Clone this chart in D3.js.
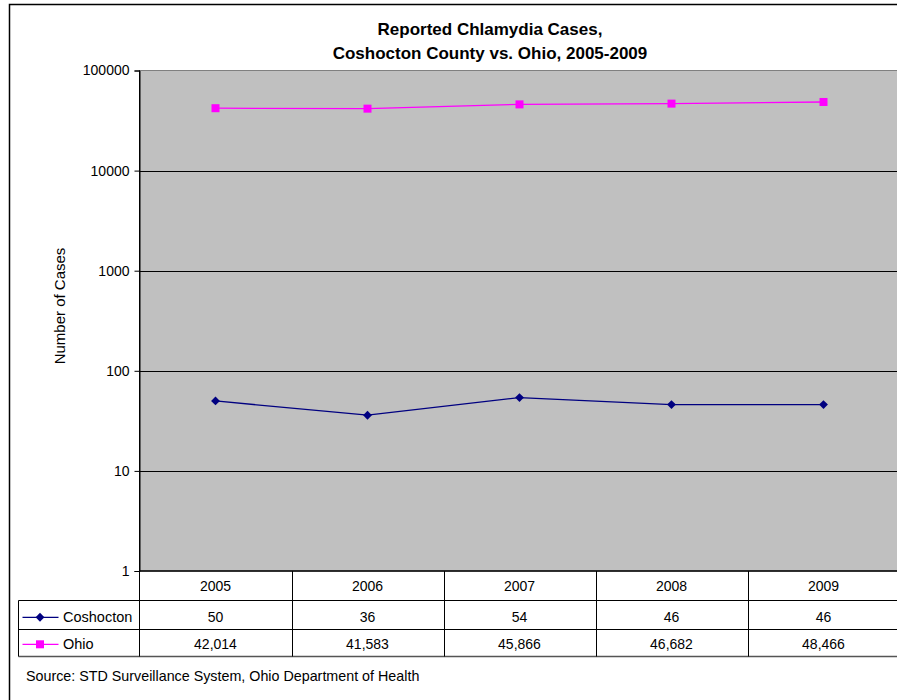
<!DOCTYPE html>
<html>
<head>
<meta charset="utf-8">
<script src="https://cdn.jsdelivr.net/npm/d3@7"></script>
<style>
  html, body { margin: 0; padding: 0; background: #fff; }
  svg { display: block; font-family: "Liberation Sans", Arial, sans-serif; }
</style>
</head>
<body>
<svg id="chart" width="897" height="700"></svg>
<script>
const years = ["2005", "2006", "2007", "2008", "2009"];
const coshocton = [50, 36, 54, 46, 46];
const ohio = [42014, 41583, 45866, 46682, 48466];
const yTicks = [1, 10, 100, 1000, 10000, 100000];
const seriesNames = ["Coshocton", "Ohio"];
const seriesColors = ["#000080", "#FF00FF"];
const titleLines = ["Reported Chlamydia Cases,", "Coshocton County vs. Ohio, 2005-2009"];
const yLabel = "Number of Cases";
const sourceText = "Source: STD Surveillance System, Ohio Department of Health";

const svg = d3.select("#chart");
const plot = { left: 139.5, right: 899.5, top: 70.5, bottom: 571 };
const FS = 14;

// outer chart border
svg.append("rect").attr("x", 9.5).attr("y", 4.5).attr("width", 1000).attr("height", 1000)
  .attr("fill", "#fff").attr("stroke", "#000").attr("stroke-width", 1.5);

// title
const title = svg.append("text").attr("text-anchor", "middle")
  .attr("font-weight", "bold").attr("font-size", 17).attr("fill", "#000");
titleLines.forEach((t, i) => {
  title.append("tspan").attr("x", 490).attr("y", 35 + i * 24).text(t);
});

const x = d3.scaleBand().domain(years).range([plot.left, plot.right]);
const y = d3.scaleLog().domain([1, 100000]).range([plot.bottom, plot.top]);

// plot area
svg.append("rect").attr("x", plot.left).attr("y", plot.top)
  .attr("width", plot.right - plot.left).attr("height", plot.bottom - plot.top)
  .attr("fill", "#C0C0C0").attr("stroke", "#808080").attr("stroke-width", 1);

// gridlines
svg.append("g").selectAll("line").data(yTicks.slice(1, -1)).join("line")
  .attr("x1", plot.left).attr("x2", plot.right)
  .attr("y1", d => Math.round(y(d)) + 0.5).attr("y2", d => Math.round(y(d)) + 0.5)
  .attr("stroke", "#000").attr("stroke-width", 1);

// y axis
const yAxis = d3.axisLeft(y).tickValues(yTicks).tickFormat(d3.format("d")).tickSize(5).tickPadding(5);
const ya = svg.append("g").attr("transform", `translate(${plot.left},0)`).call(yAxis);
ya.attr("font-size", FS).attr("font-family", "'Liberation Sans', Arial, sans-serif");
ya.select(".domain").attr("stroke", "#000");
ya.selectAll("text").attr("fill", "#000");
ya.selectAll("line").attr("stroke", "#000");

// y label
svg.append("text").attr("transform", "translate(64.5,306) rotate(-90)")
  .attr("text-anchor", "middle").attr("font-size", 15).attr("fill", "#000").text(yLabel);

// data table
const tableLeft = 18.5;
const tg = svg.append("g");
tg.append("line").attr("x1", plot.left).attr("x2", plot.right).attr("y1", plot.bottom).attr("y2", plot.bottom)
  .attr("stroke", "#000").attr("stroke-width", 1.5);
[600.5, 629.5].forEach(yy => {
  tg.append("line").attr("x1", tableLeft).attr("x2", plot.right).attr("y1", yy).attr("y2", yy)
    .attr("stroke", "#000").attr("stroke-width", 1);
});
tg.append("line").attr("x1", tableLeft).attr("x2", plot.right).attr("y1", 656.5).attr("y2", 656.5)
  .attr("stroke", "#555").attr("stroke-width", 1.5);
tg.append("line").attr("x1", tableLeft).attr("x2", tableLeft).attr("y1", 600.5).attr("y2", 656.5)
  .attr("stroke", "#000").attr("stroke-width", 1);
years.forEach(yr => {
  const xx = Math.round(x(yr) + x.bandwidth()) + 0.5;
  tg.append("line").attr("x1", xx).attr("x2", xx).attr("y1", plot.bottom).attr("y2", 656.5)
    .attr("stroke", "#000").attr("stroke-width", 1);
});
tg.append("line").attr("x1", plot.left).attr("x2", plot.left).attr("y1", plot.top).attr("y2", 656.5)
  .attr("stroke", "#000").attr("stroke-width", 1);

// year header
tg.selectAll("text.yr").data(years).join("text").attr("class", "yr")
  .attr("x", d => x(d) + x.bandwidth() / 2).attr("y", 591)
  .attr("text-anchor", "middle").attr("font-size", FS).attr("fill", "#000").text(d => d);

const fmt = d3.format(",");
[coshocton, ohio].forEach((vals, si) => {
  const cy = [621.5, 648.5][si];
  tg.selectAll("text.v" + si).data(vals).join("text").attr("class", "v" + si)
    .attr("x", (d, i) => x(years[i]) + x.bandwidth() / 2).attr("y", cy)
    .attr("text-anchor", "middle").attr("font-size", FS).attr("fill", "#000").text(d => fmt(d));
  const ly = [617.3, 644.3][si];
  tg.append("line").attr("x1", 22.5).attr("x2", 58.5).attr("y1", ly).attr("y2", ly)
    .attr("stroke", seriesColors[si]).attr("stroke-width", 1.2);
  if (si === 0) {
    tg.append("path").attr("d", d3.symbol(d3.symbolDiamond2 || d3.symbolDiamond, 50)())
      .attr("transform", `translate(40,${ly})`).attr("fill", seriesColors[si]);
  } else {
    tg.append("rect").attr("x", 36).attr("y", ly - 4).attr("width", 8).attr("height", 8)
      .attr("fill", seriesColors[si]);
  }
  tg.append("text").attr("x", 63).attr("y", cy).attr("font-size", 14.5).attr("fill", "#000").text(seriesNames[si]);
});

// series lines
const line = d3.line().x((d, i) => x(years[i]) + x.bandwidth() / 2).y(d => y(d));
[coshocton, ohio].forEach((vals, si) => {
  svg.append("path").datum(vals).attr("d", line).attr("fill", "none")
    .attr("stroke", seriesColors[si]).attr("stroke-width", 1.3);
});
// markers
svg.append("g").selectAll("path").data(coshocton).join("path")
  .attr("d", d3.symbol(d3.symbolDiamond2 || d3.symbolDiamond, 50)())
  .attr("transform", (d, i) => `translate(${x(years[i]) + x.bandwidth() / 2},${y(d)})`)
  .attr("fill", seriesColors[0]);
svg.append("g").selectAll("rect").data(ohio).join("rect")
  .attr("x", (d, i) => x(years[i]) + x.bandwidth() / 2 - 4).attr("y", d => y(d) - 4)
  .attr("width", 8).attr("height", 8).attr("fill", seriesColors[1]);

// source
svg.append("text").attr("x", 26).attr("y", 680.5).attr("font-size", 14.3).attr("fill", "#000").text(sourceText);
</script>
</body>
</html>
